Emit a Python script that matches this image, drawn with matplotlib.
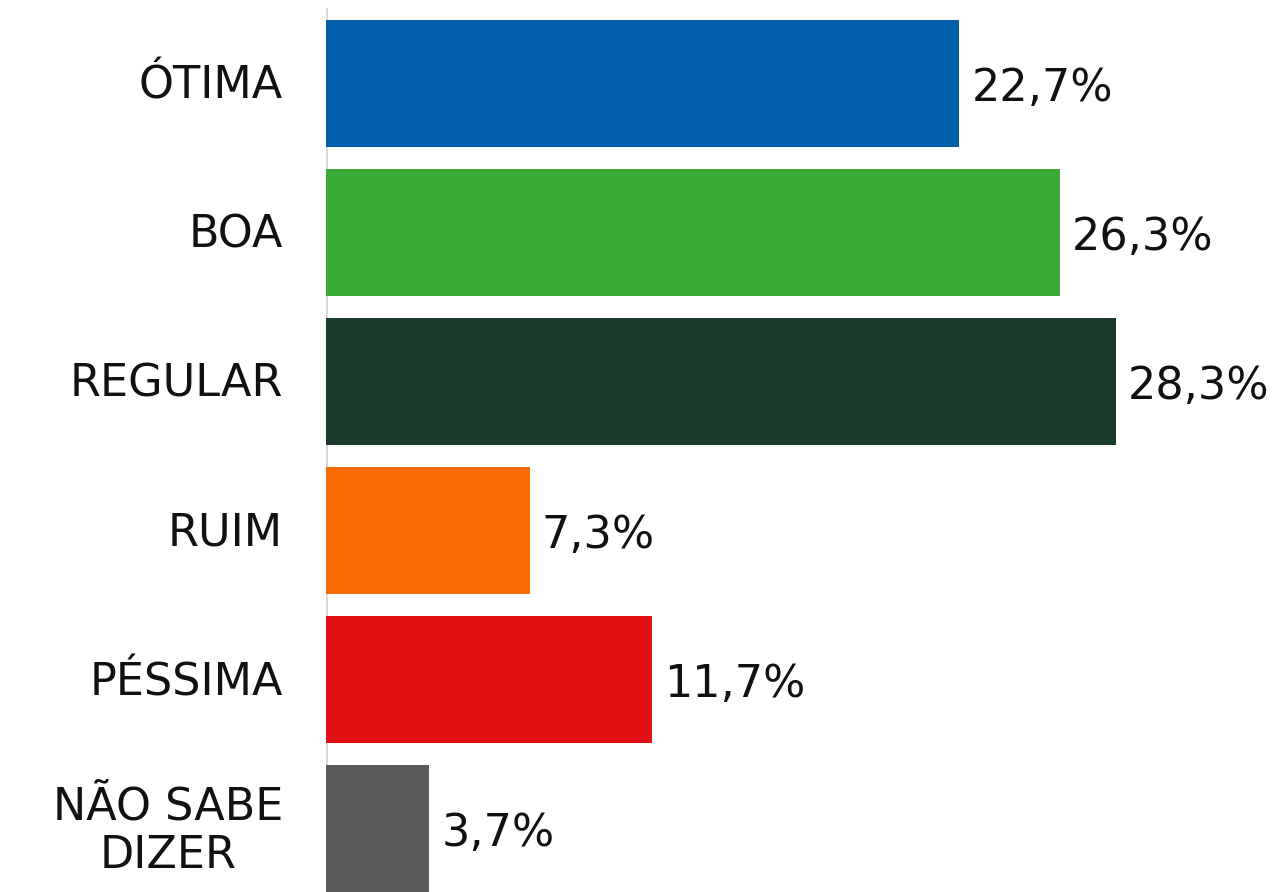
import matplotlib.pyplot as plt

categorias = ['ÓTIMA', 'BOA', 'REGULAR', 'RUIM', 'PÉSSIMA', 'NÃO SABE\nDIZER']
valores = [22.7, 26.3, 28.3, 7.3, 11.7, 3.7]
rotulos = ['22,7%', '26,3%', '28,3%', '7,3%', '11,7%', '3,7%']
cores = ['#005EAA', '#3AAA35', '#1A3A2A', '#F96A00', '#E01015', '#5B5B5B']

plt.rcParams['font.family'] = ['DejaVu Sans']

fig = plt.figure(figsize=(12.76, 8.92), dpi=100)
ax = fig.add_axes([326 / 1276, 0, 1 - 326 / 1276, 1])

y = range(len(categorias))
ax.barh(y, valores, height=0.852, color=cores)

ax.set_xlim(0, 34.05)
ax.set_ylim(5.426, -0.560)

for s in ax.spines.values():
    s.set_visible(False)
ax.set_xticks([])
ax.set_yticks([])
ax.axvline(0, ymin=0, ymax=0.99, color='#d9d9d9', lw=2.2, zorder=0)

for i, (cat, v, r) in enumerate(zip(categorias, valores, rotulos)):
    ax.annotate(cat, (0, i), xytext=(-43, -3), textcoords='offset pixels',
                ha='right', va='center', multialignment='center',
                fontsize=32, color='#111111', linespacing=1.17)
    ax.annotate(r, (v, i), xytext=(12, -5), textcoords='offset pixels',
                ha='left', va='center', fontsize=32, color='#111111')

fig.savefig('out.png', dpi=100)
